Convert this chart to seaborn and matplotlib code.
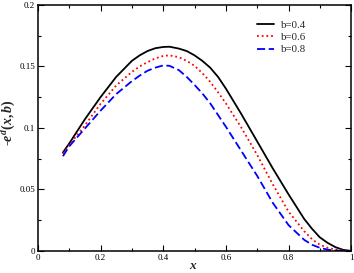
import matplotlib

matplotlib.use("Agg")

import matplotlib.pyplot as plt
import pandas as pd
import seaborn as sns
from matplotlib.ticker import FixedLocator, MultipleLocator


x_vals = [0.08, 0.10, 0.15, 0.20, 0.25, 0.30, 0.325, 0.35, 0.375, 0.40, 0.42, 0.45,
          0.475, 0.50, 0.525, 0.55, 0.575, 0.60, 0.65, 0.70, 0.75, 0.80, 0.85,
          0.875, 0.90, 0.925, 0.95, 0.975, 1.00]

e_b04 = [0.080, 0.0873, 0.107, 0.125, 0.1415, 0.1545, 0.159, 0.1625, 0.1648, 0.1658, 0.166, 0.1645,
         0.1625, 0.159, 0.1545, 0.149, 0.1415, 0.132, 0.111, 0.089, 0.067, 0.046, 0.026,
         0.018, 0.011, 0.0065, 0.003, 0.0008, 0.0]
e_b06 = [0.079, 0.086, 0.102, 0.1195, 0.1345, 0.1455, 0.150, 0.1535, 0.1565, 0.1585, 0.159, 0.1575,
         0.1545, 0.1505, 0.1445, 0.1375, 0.129, 0.120, 0.100, 0.078, 0.054, 0.032, 0.016,
         0.0095, 0.005, 0.0025, 0.001, 0.0002, 0.0]
e_b08 = [0.077, 0.085, 0.0995, 0.114, 0.1275, 0.138, 0.1425, 0.1465, 0.149, 0.1508, 0.1505, 0.147,
         0.1415, 0.135, 0.128, 0.120, 0.1105, 0.101, 0.081, 0.061, 0.039, 0.021, 0.009,
         0.005, 0.0025, 0.001, 0.0003, 0.0, 0.0]

series_names = ["b=0.4", "b=0.6", "b=0.8"]

df = pd.concat([
    pd.DataFrame({"x": x_vals, "e": vals, "b": name})
    for name, vals in zip(series_names, [e_b04, e_b06, e_b08])
])

sns.set_theme(style="ticks")
plt.rcParams.update({
    "font.family": ["Liberation Serif", "DejaVu Serif"],
    "axes.linewidth": 1.1,
    "axes.edgecolor": "black",
    "mathtext.fontset": "custom",
    "mathtext.it": "Liberation Serif:italic:bold",
    "mathtext.rm": "Liberation Serif:bold",
    "mathtext.bf": "Liberation Serif:italic:bold",
})

fig = plt.figure(figsize=(3.54, 2.73), dpi=100)
ax = fig.add_axes([0.107, 0.081, 0.885, 0.901])

sns.lineplot(
    data=df, x="x", y="e", hue="b", style="b",
    palette={"b=0.4": "black", "b=0.6": "#ff0000", "b=0.8": "#0000ff"},
    dashes={"b=0.4": "", "b=0.6": (1, 1.6), "b=0.8": (4.5, 2)},
    linewidth=1.3, ax=ax, legend=True,
)

ax.set_xlim(0, 1)
ax.set_ylim(0, 0.2)
ax.xaxis.set_major_locator(FixedLocator([0, 0.2, 0.4, 0.6, 0.8, 1.0]))
ax.xaxis.set_minor_locator(MultipleLocator(0.1))
ax.yaxis.set_major_locator(FixedLocator([0, 0.05, 0.1, 0.15, 0.2]))
ax.yaxis.set_minor_locator(MultipleLocator(0.025))
ax.set_xticklabels(["0", "0.2", "0.4", "0.6", "0.8", "1"])
ax.set_yticklabels(["0", "0.05", "0.1", "0.15", "0.2"])
ax.tick_params(which="both", direction="in", top=True, right=True, labelsize=6.5,
               width=0.8, colors="black", pad=2)
ax.tick_params(which="major", length=4.5)
ax.tick_params(which="minor", length=2.5)

ax.set_xlabel("$x$", fontsize=9.5)
ax.xaxis.set_label_coords(0.495, -0.036)
ax.set_ylabel("-$e^{d}(x,b)$", fontsize=10, fontweight="bold")
ax.yaxis.set_label_coords(-0.062, 0.52)

handles, labels = ax.get_legend_handles_labels()
ax.legend(handles, labels, loc="upper left", bbox_to_anchor=(0.686, 0.955), frameon=False,
          fontsize=7.8, handlelength=1.6, handletextpad=0.6, labelspacing=0.25,
          borderaxespad=0)

fig.savefig("out.png", dpi=100, facecolor="white")
plt.close(fig)
